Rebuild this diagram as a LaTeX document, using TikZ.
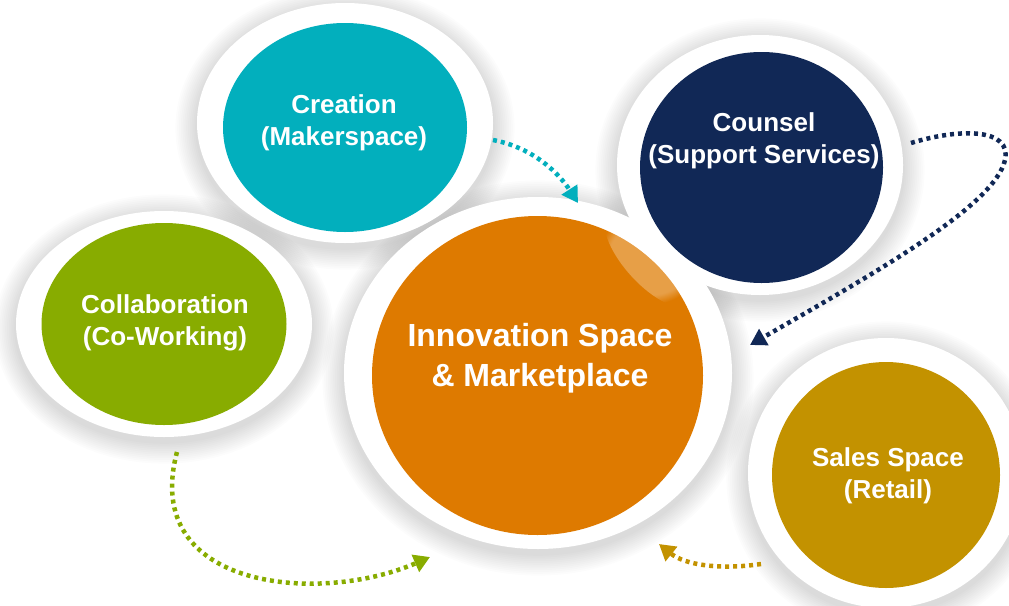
\documentclass[tikz,border=0pt]{standalone}
\usepackage{fontspec}
\setmainfont{Liberation Sans}
\usetikzlibrary{arrows.meta,shapes.geometric,fadings}

\definecolor{creationcol}{HTML}{02AFBD}
\definecolor{counselcol}{HTML}{112856}
\definecolor{collabcol}{HTML}{88AC00}
\definecolor{hubcol}{HTML}{DE7A00}
\definecolor{salescol}{HTML}{C39200}

\tikzset{
  bubble/.style={shape=ellipse, inner sep=0pt, draw=none},
  bubbletext/.style={text=white, anchor=north, inner sep=0pt, align=center,
    font=\bfseries\fontsize{26}{32}\selectfont},
  flow/.style={line width=4.5pt, dash pattern=on 4pt off 4pt,
    -{Triangle[length=16pt,width=18pt]}}
}

\begin{document}
\begin{tikzpicture}[x=1pt,y=-1pt]
	\useasboundingbox (0,0) rectangle (1009,605);
	% soft shadows and white rings
	\foreach \cx/\cy/\rx/\ry in {345/123/148/120, 760/165/143/130, 164/324/148/113, 538/373/194/176, 886/473/138/135}{
		\foreach \k in {1,...,12}
			\fill[black, opacity=0.012] (\cx,\cy+5) ellipse ({\rx+1.8*\k} and {\ry+1.8*\k});
	}
	\foreach \cx/\cy/\rx/\ry in {345/123/148/120, 760/165/143/130, 164/324/148/113, 538/373/194/176, 886/473/138/135}
		\fill[white] (\cx,\cy) ellipse ({\rx} and {\ry});

	% coloured discs
	\node[bubble, fill=creationcol, minimum width=244pt, minimum height=209pt] (creation) at (345,127.5) {};
	\node[bubble, fill=counselcol, minimum width=243pt, minimum height=231pt] (counsel) at (761.5,167.5) {};
	\node[bubble, fill=collabcol, minimum width=245pt, minimum height=202pt] (collab) at (164,324) {};
	\node[bubble, fill=hubcol, minimum width=331pt, minimum height=319pt] (hub) at (537.5,375.5) {};
	\node[bubble, fill=salescol, minimum width=228pt, minimum height=226pt] (sales) at (886,475) {};

	% gloss on the hub
	\begin{scope}
		\clip (537.5,375.5) ellipse (165.5 and 159.5);
		\fill[white, opacity=0.28, path fading=circle with fuzzy edge 20 percent, rotate around={-48:(650,258)}] (650,258) ellipse (62 and 26);
	\end{scope}

	% labels
	\node[bubbletext] (creationtxt) at ([xshift=-1pt, yshift=33.5pt]creation.center) {Creation\\(Makerspace)};
	\node[bubbletext] (counseltxt) at ([xshift=2.5pt, yshift=54.8pt]counsel.center) {Counsel\\(Support Services)};
	\node[bubbletext] (collabtxt) at ([xshift=1pt, yshift=29.7pt]collab.center) {Collaboration\\(Co-Working)};
	\node[bubbletext] (salestxt) at ([xshift=2pt, yshift=27.3pt]sales.center) {Sales Space\\(Retail)};
	\node[bubbletext, font=\bfseries\fontsize{32}{40}\selectfont] (hubtxt) at ([xshift=2.5pt, yshift=52.2pt]hub.center) {Innovation Space\\\& Marketplace};

	% dotted flows into the hub
	\coordinate (creation-out) at (493,140);
	\coordinate (hub-in-n) at (578,203);
	\coordinate (counsel-out) at (911,143);
	\coordinate (hub-in-ne) at (750,345);
	\coordinate (collab-out) at (177,452);
	\coordinate (hub-in-sw) at (430,557);
	\coordinate (sales-out) at (761,564);
	\coordinate (hub-in-se) at (659,544);

	\draw[flow, creationcol] (creation-out) .. controls (535,148) and (560,175) .. (hub-in-n);
	\draw[flow, counselcol] (counsel-out) .. controls (960,128) and (1012,128) .. (1005,160)
		.. controls (995,205) and (880,270) .. (hub-in-ne);
	\draw[flow, collabcol] (collab-out) .. controls (140,590) and (320,605) .. (hub-in-sw);
	\draw[flow, salescol] (sales-out) .. controls (720,570) and (685,565) .. (hub-in-se);
\end{tikzpicture}
\end{document}
